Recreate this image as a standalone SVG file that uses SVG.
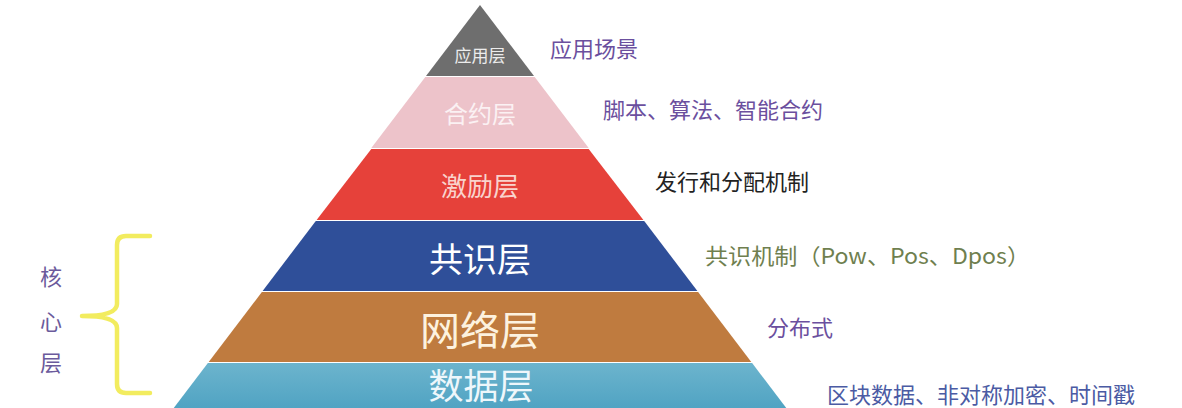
<svg xmlns="http://www.w3.org/2000/svg" width="1182" height="408" viewBox="0 0 1182 408">
  <defs>
    <linearGradient id="gCyan" x1="0" y1="0" x2="0" y2="1">
      <stop offset="0" stop-color="#6cb4cd"/>
      <stop offset="1" stop-color="#4ea2c2"/>
    </linearGradient>
    <style>
      text { font-family: "Noto Sans CJK SC", "Noto Sans", sans-serif; }
      .lbl { text-anchor: middle; dominant-baseline: central; }
      .desc { font-size: 22px; dominant-baseline: central; }
      .purple { fill: #6b4f9e; }
    </style>
  </defs>
  <rect width="1182" height="408" fill="#ffffff"/>

  <g id="layer-app">
    <polygon points="480,5 534,76 426,76" fill="#6e6e6e"/>
    <text class="lbl" x="480" y="54" font-size="17" fill="#ececec">应用层</text>
    <text class="desc purple" x="550" y="47">应用场景</text>
  </g>

  <g id="layer-contract">
    <polygon points="425.3,77 534.7,77 588.7,148 371.3,148" fill="#edc3ca"/>
    <text class="lbl" x="480" y="112" font-size="24" fill="#fbf1f3">合约层</text>
    <text class="desc purple" x="603" y="108" font-size="23">脚本、算法、智能合约</text>
  </g>

  <g id="layer-incentive">
    <polygon points="371.3,149 588.7,149 643.4,220 316.6,220" fill="#e6413a"/>
    <text class="lbl" x="480" y="184" font-size="26" fill="#f9d3cd">激励层</text>
    <text class="desc" x="655" y="180" fill="#222222">发行和分配机制</text>
  </g>

  <g id="layer-consensus">
    <polygon points="315.8,221 644.2,221 697.4,291 262.6,291" fill="#2f4f99"/>
    <text class="lbl" x="480" y="257" font-size="34" fill="#ffffff">共识层</text>
    <text class="desc" x="705" y="254" fill="#6f7f4f" textLength="325" lengthAdjust="spacingAndGlyphs">共识机制（Pow、Pos、Dpos）</text>
  </g>

  <g id="layer-network">
    <polygon points="261.9,292 698.1,292 751.3,362 208.7,362" fill="#bf7b3f"/>
    <text class="lbl" x="480" y="328" font-size="40" fill="#fdf2df">网络层</text>
    <text class="desc purple" x="767" y="326">分布式</text>
  </g>

  <g id="layer-data">
    <polygon points="207.9,363 752.1,363 789.3,412 170.7,412" fill="url(#gCyan)"/>
    <text class="lbl" x="481" y="383" font-size="35" fill="#eef7fb">数据层</text>
    <text class="desc" x="827" y="393" font-size="22" fill="#4b5ba4">区块数据、非对称加密、时间戳</text>
  </g>

  <g id="core-group">
    <path d="M150,236 L126,236 Q117,236 117,245 L117,304 Q117,316 82,316 Q117,316 117,328 L117,384 Q117,393 126,393 L150,393" fill="none" stroke="#f2ec5f" stroke-width="4.5" stroke-linecap="round" stroke-linejoin="round"/>
    <text class="lbl" x="51" y="275" font-size="22" fill="#6b5a9c">核</text>
    <text class="lbl" x="51" y="320" font-size="22" fill="#6b5a9c">心</text>
    <text class="lbl" x="51" y="361" font-size="22" fill="#6b5a9c">层</text>
  </g>

  <g id="connectors"></g>
</svg>
